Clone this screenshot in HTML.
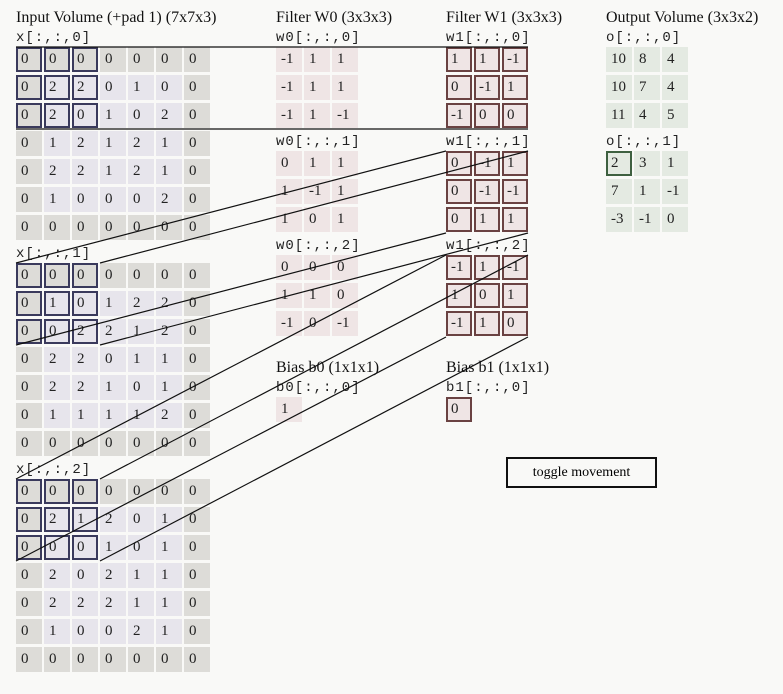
<!DOCTYPE html>
<html><head><meta charset="utf-8"><style>
body{margin:0;background:#f9f9f7;width:783px;height:694px;position:relative;overflow:hidden;font-family:"Liberation Serif",serif;}
.t{position:absolute;font-size:16px;white-space:nowrap;color:#111;line-height:18px}
.m{position:absolute;font-family:"Liberation Mono",monospace;font-size:14px;letter-spacing:1px;white-space:nowrap;color:#222;line-height:16px}
.c{position:absolute;width:26px;height:25px;box-sizing:border-box;padding-left:5px;font-size:15px;line-height:25px;color:#222}
.p{background:#dddcd8}.i{background:#e7e5ec}.f{background:#efe5e5}.o{background:#e4eae2}
.hi{border:2px solid #3a3a5c;padding-left:3px;line-height:21px}
.hf{border:2px solid #6a4242;padding-left:3px;line-height:21px}
.ho{border:2px solid #3e6040;padding-left:3px;line-height:21px}
#btn{position:absolute;left:506px;top:457px;width:151px;height:31px;box-sizing:border-box;border:2px solid #111;font-size:14px;text-align:center;line-height:27px;background:#f9f9f7}
svg{position:absolute;left:0;top:0}
</style></head><body>
<div id="g"></div>
<svg width="783" height="694">
<g stroke="#111" stroke-width="1.2" fill="none">
<line x1="16" y1="47" x2="528" y2="47"/><line x1="16" y1="129" x2="528" y2="129"/>
<line x1="16" y1="263" x2="446" y2="151"/><line x1="100" y1="263" x2="528" y2="151"/>
<line x1="16" y1="345" x2="446" y2="233"/><line x1="100" y1="345" x2="528" y2="233"/>
<line x1="16" y1="479" x2="446" y2="255"/><line x1="100" y1="479" x2="528" y2="255"/>
<line x1="16" y1="561" x2="446" y2="337"/><line x1="100" y1="561" x2="528" y2="337"/>
</g></svg>
<div id="btn">toggle movement</div>
<script>
var g=document.getElementById('g'),h='';
function T(x,y,s){h+='<div class="t" style="left:'+x+'px;top:'+(y-9)+'px">'+s+'</div>';}
function M(x,y,s){h+='<div class="m" style="left:'+x+'px;top:'+(y-8)+'px">'+s+'</div>';}
function G(x,y,d,cls){for(var r=0;r<d.length;r++)for(var c=0;c<d[r].length;c++){var k=cls(r,c,d.length);h+='<div class="c '+k+'" style="left:'+(x+c*28)+'px;top:'+(y+r*28)+'px">'+d[r][c]+'</div>';}}
var X=[
[[0,0,0,0,0,0,0],[0,2,2,0,1,0,0],[0,2,0,1,0,2,0],[0,1,2,1,2,1,0],[0,2,2,1,2,1,0],[0,1,0,0,0,2,0],[0,0,0,0,0,0,0]],
[[0,0,0,0,0,0,0],[0,1,0,1,2,2,0],[0,0,2,2,1,2,0],[0,2,2,0,1,1,0],[0,2,2,1,0,1,0],[0,1,1,1,1,2,0],[0,0,0,0,0,0,0]],
[[0,0,0,0,0,0,0],[0,2,1,2,0,1,0],[0,0,0,1,0,1,0],[0,2,0,2,1,1,0],[0,2,2,2,1,1,0],[0,1,0,0,2,1,0],[0,0,0,0,0,0,0]]];
var W0=[[[-1,1,1],[-1,1,1],[-1,1,-1]],[[0,1,1],[1,-1,1],[1,0,1]],[[0,0,0],[1,1,0],[-1,0,-1]]];
var W1=[[[1,1,-1],[0,-1,1],[-1,0,0]],[[0,-1,1],[0,-1,-1],[0,1,1]],[[-1,1,-1],[1,0,1],[-1,1,0]]];
var O=[[[10,8,4],[10,7,4],[11,4,5]],[[2,3,1],[7,1,-1],[-3,-1,0]]];
T(16,18,'Input Volume (+pad 1) (7x7x3)');T(276,18,'Filter W0 (3x3x3)');T(446,18,'Filter W1 (3x3x3)');T(606,18,'Output Volume (3x3x2)');
for(var k=0;k<3;k++){var y=47+k*216;M(16,y-9,'x[:,:,'+k+']');
G(16,y,X[k],function(r,c,n){var s=(r==0||c==0||r==6||c==6)?'p':'i';if(r<3&&c<3)s+=' hi';return s;});
var fy=47+k*104;M(276,fy-9,'w0[:,:,'+k+']');M(446,fy-9,'w1[:,:,'+k+']');
G(276,fy,W0[k],function(){return 'f';});G(446,fy,W1[k],function(){return 'f hf';});}
for(var k=0;k<2;k++){var y=47+k*104;M(606,y-9,'o[:,:,'+k+']');G(606,y,O[k],function(r,c){return (k==1&&r==0&&c==0)?'o ho':'o';});}
T(276,368,'Bias b0 (1x1x1)');T(446,368,'Bias b1 (1x1x1)');M(276,388,'b0[:,:,0]');M(446,388,'b1[:,:,0]');
G(276,397,[[1]],function(){return 'f';});G(446,397,[[0]],function(){return 'f hf';});
g.innerHTML=h;
</script>
</body></html>
